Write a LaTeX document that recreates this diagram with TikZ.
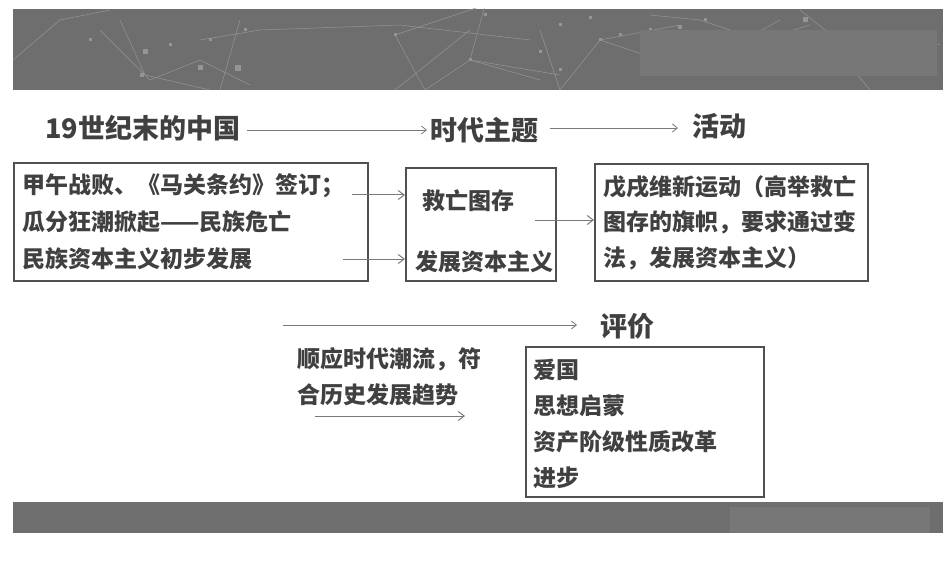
\documentclass[tikz,border=0pt]{standalone}
\usepackage{fontspec}
\newfontfamily\cn{Noto Sans CJK SC}
\usetikzlibrary{arrows.meta}
\definecolor{bandc}{HTML}{6E6E6E}
\definecolor{bandl}{HTML}{777777}
\definecolor{netc}{HTML}{959595}
\definecolor{boxc}{HTML}{505050}
\definecolor{txtc}{HTML}{404040}
\definecolor{arrc}{HTML}{7A7A7A}
\tikzset{
  box/.style={draw=boxc, line width=1.6pt, inner sep=0pt, anchor=north west},
  txt/.style={font=\cn\bfseries\fontsize{23}{25}\selectfont, text=txtc, anchor=west, inner sep=0pt},
  ttl/.style={font=\cn\bfseries\fontsize{27}{29}\selectfont, text=txtc, anchor=west, inner sep=0pt},
  arr/.style={draw=arrc, line width=1pt, -{Straight Barb[length=6pt,width=9pt]}},
  thinarr/.style={draw=arrc, line width=0.8pt, -{Straight Barb[length=5pt,width=8pt]}},
  net/.style={draw=netc, line width=0.5pt},
  sq/.style={fill=netc}
}
\begin{document}
\begin{tikzpicture}[x=1pt,y=-1pt]
\useasboundingbox[fill=white] (0,0) rectangle (950,564);
% top banner
\fill[bandc] (13,9) rectangle (943,90);
\begin{scope}
\clip (13,9) rectangle (943,90);
\draw[net] (13,60) -- (60,20) -- (110,10);
\draw[net] (100,30) -- (150,80) -- (200,60) -- (250,85);
\draw[net] (120,20) -- (145,75) -- (210,90);
\draw[net] (200,40) -- (260,30) -- (400,25) -- (530,40);
\draw[net] (240,20) -- (220,90);
\draw[net] (395,35) -- (425,90) -- (470,60) -- (560,75);
\draw[net] (470,30) -- (395,90);
\draw[net] (395,35) -- (485,5);
\draw[net] (485,5) -- (470,60) -- (540,80);
\draw[net] (540,30) -- (560,90) -- (600,40) -- (680,25);
\draw[net] (600,40) -- (690,70) -- (780,20);
\draw[net] (650,15) -- (700,20) -- (760,40) -- (810,25);
\draw[net] (800,10) -- (850,50) -- (900,30) -- (940,45);
\draw[net] (820,30) -- (870,90);
\foreach \x/\y/\s in {145/52/5,142/75/4,200/68/5,238/68/6,90/40/3,170/45/3,210/40/3,245/30/3,395/35/3,485/15/3,470/60/3,540/52/3,560/70/3,600/40/3,680/27/4,705/20/3,805/20/5,760/40/3,560/25/3,590/18/3,620/35/3,650/30/3}
  \fill[sq] (\x-\s/2,\y-\s/2) rectangle (\x+\s/2,\y+\s/2);
\end{scope}
\fill[bandl] (640,30) rectangle (937,76);
% bottom bar
\fill[bandc] (13,502) rectangle (943,533);
\fill[bandl] (730,507) rectangle (930,533);

% titles
\node[ttl] (t1) at (45,128) {19世纪末的中国};
\node[ttl] (t2) at (430,130) {时代主题};
\node[ttl] (t3) at (692,126) {活动};
\node[ttl] (t4) at (600,326) {评价};
\coordinate (a1s) at (247,130);
\draw[thinarr] (a1s) -- ([xshift=-3pt]t2.west |- a1s);
\coordinate (a2s) at (550,128);
\draw[thinarr] (a2s) -- ([xshift=-14pt]t3.west |- a2s);

% boxes
\node[box, minimum width=354pt, minimum height=118pt] (b1) at (13,162) {};
\node[box, minimum width=150pt, minimum height=113pt] (b2) at (405,167) {};
\node[box, minimum width=273pt, minimum height=117pt] (b3) at (594,163) {};
\node[box, minimum width=238pt, minimum height=150pt] (b4) at (525,346) {};

% box1 text
\node[txt] (l11) at (22,186) {甲午战败、《马关条约》签订；};
\node[txt] (l12) at (22,222) {瓜分狂潮掀起——民族危亡};
\node[txt] (l13) at (22,259) {民族资本主义初步发展};
% box2 text
\node[txt] (l21) at (422,201) {救亡图存};
\node[txt] (l22) at (415,262) {发展资本主义};
% box3 text
\node[txt] (l31) at (603,187) {戊戌维新运动（高举救亡};
\node[txt] (l32) at (603,222) {图存的旗帜，要求通过变};
\node[txt] (l33) at (603,258) {法，发展资本主义）};
% box4 text
\node[txt] (l41) at (533,370) {爱国};
\node[txt] (l42) at (533,406) {思想启蒙};
\node[txt] (l43) at (533,442) {资产阶级性质改革};
\node[txt] (l44) at (533,478) {进步};
% evaluation text
\node[txt] (e1) at (297,359) {顺应时代潮流，符};
\node[txt] (e2) at (297,395) {合历史发展趋势};

% arrows
\coordinate (s1) at (352,195);
\coordinate (s2) at (343,259);
\draw[arr] (s1) -- (b2.west |- s1);
\draw[arr] (s2) -- (b2.west |- s2);
\coordinate (s3) at (535,220);
\draw[arr] (s3) -- (b3.west |- s3);
\coordinate (s4) at (283,325);
\draw[thinarr] (s4) -- ([xshift=-23pt]t4.west |- s4);
\coordinate (s5) at (315,416);
\draw[arr] (s5) -- (465,416) coordinate (s5e);
\end{tikzpicture}
\end{document}
